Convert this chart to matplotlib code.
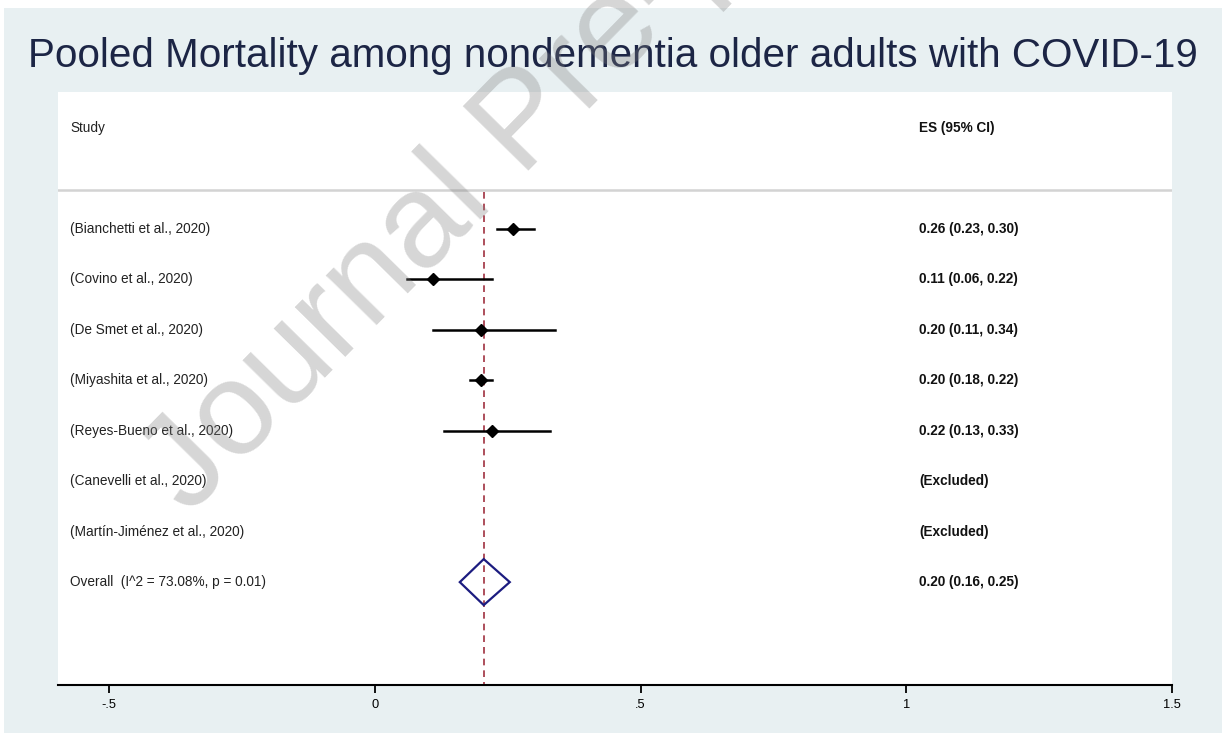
import matplotlib.pyplot as plt
from matplotlib.patches import Rectangle
import numpy as np

plt.rcParams['font.family'] = ['Liberation Sans', 'DejaVu Sans']

studies = ['(Bianchetti et al., 2020)', '(Covino et al., 2020)', '(De Smet et al., 2020)',
           '(Miyashita et al., 2020)', '(Reyes-Bueno et al., 2020)', '(Canevelli et al., 2020)',
           '(Martín-Jiménez et al., 2020)']
es = [0.26, 0.11, 0.20, 0.20, 0.22, np.nan, np.nan]
lo = [0.23, 0.06, 0.11, 0.18, 0.13, np.nan, np.nan]
hi = [0.30, 0.22, 0.34, 0.22, 0.33, np.nan, np.nan]
es_labels = ['0.26 (0.23, 0.30)', '0.11 (0.06, 0.22)', '0.20 (0.11, 0.34)', '0.20 (0.18, 0.22)',
             '0.22 (0.13, 0.33)', '(Excluded)', '(Excluded)']
overall_label = 'Overall  (I^2 = 73.08%, p = 0.01)'
overall_es, overall_lo, overall_hi = 0.205, 0.16, 0.254
overall_text = '0.20 (0.16, 0.25)'
xticks = [-0.5, 0, 0.5, 1, 1.5]
xticklabels = ['-.5', '0', '.5', '1', '1.5']

W, H = 1226, 738
fig = plt.figure(figsize=(W / 100, H / 100), dpi=100, facecolor='white')
# light outer panel behind everything
fig.patches.append(Rectangle((4 / W, 5 / H), 1218 / W, 725 / H, transform=fig.transFigure,
                             facecolor='#e8f0f2', edgecolor='none', zorder=-10))

ax = fig.add_axes([58 / W, (H - 685) / H, (1172 - 58) / W, (685 - 92) / H])
ax.set_facecolor('white')
ax.set_xlim(-0.596, 1.5)
ax.set_ylim(10.04, -1.717)
for s in ['top', 'left', 'right']:
    ax.spines[s].set_visible(False)
ax.spines['bottom'].set_linewidth(1.5)
ax.set_yticks([])
ax.set_xticks(xticks)
ax.set_xticklabels(xticklabels)
ax.tick_params(axis='x', length=5.5, width=1.3, pad=4.5, labelsize=9.3, colors='black')

xtxt_l = -0.573
xtxt_r = 1.024
fs = 9.8

ax.text(xtxt_l, -1.0, 'Study', fontsize=fs, va='center', ha='left', color='#222222')
ax.text(xtxt_r, -1.0, 'ES (95% CI)', fontsize=fs, va='center', ha='left', color='#111111', fontweight='bold')
ax.axhline(0.227, color='#d3d3d3', lw=1.8)

rows = np.arange(1, len(studies) + 1)
ax.plot([overall_es, overall_es], [0.26, 10.04], color='#a03040', lw=1.2, ls=(0, (4, 3)), zorder=2)

for r, name, e, l, h, lab in zip(rows, studies, es, lo, hi, es_labels):
    ax.text(xtxt_l, r, name, fontsize=fs, va='center', ha='left', color='#222222')
    ax.text(xtxt_r, r, lab, fontsize=fs, va='center', ha='left', color='#111111', fontweight='bold')
    if not np.isnan(e):
        ax.plot([l, h], [r, r], color='black', lw=1.8, zorder=3)
        ax.plot(e, r, marker='D', color='black', markersize=6.5, zorder=4)

ry = len(studies) + 1
ax.text(xtxt_l, ry, overall_label, fontsize=fs, va='center', ha='left', color='#222222')
ax.text(xtxt_r, ry, overall_text, fontsize=fs, va='center', ha='left', color='#111111', fontweight='bold')
dh = 0.456
ax.fill([overall_lo, overall_es, overall_hi, overall_es], [ry, ry - dh, ry, ry + dh],
        facecolor='none', edgecolor='#1c1c80', lw=1.6, zorder=4)

fig.text(0.5, 1 - 56 / H, 'Pooled Mortality among nondementia older adults with COVID-19',
         fontsize=29.1, ha='center', va='center', color='#1c2545')

# watermark
fig.text(189 / W, 1 - 516 / H, 'Journal Pre-proof', fontsize=96, rotation=45.5,
         rotation_mode='anchor', ha='left', va='baseline', color='#808080', alpha=0.32)

fig.savefig('out.png', dpi=100)
